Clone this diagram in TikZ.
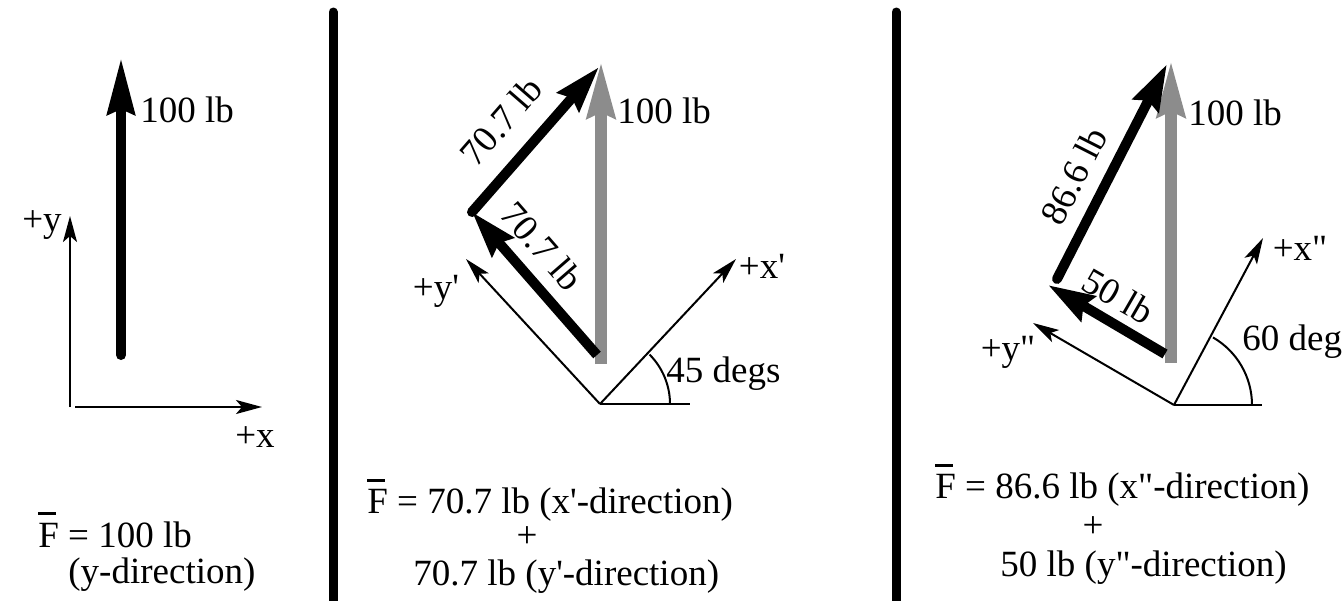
\documentclass[tikz,border=0pt]{standalone}
\usepackage{fontspec}
\setmainfont{Liberation Serif}
\usetikzlibrary{arrows.meta}
\definecolor{fgray}{gray}{0.55}
\newcommand\myFbar{\makebox[0pt][l]{\rule[0.86em]{0.47em}{0.08em}}F}
\tikzset{
  lbl/.style={inner sep=0pt, font=\fontsize{18.5}{22}\selectfont},
  force/.style={line width=5pt, -{Stealth[length=23pt,width=14pt,inset=2.5pt]}},
  bigforce/.style={line width=5pt, -{Stealth[length=28pt,width=13.5pt,inset=2.5pt]}},
  gforce/.style={line width=6pt, draw=fgray, -{Stealth[length=28pt,width=13.5pt,inset=2.5pt]}},
  axisarrow/.style={line width=1pt, -{Stealth[length=13pt,width=7pt,inset=3pt]}},
  divider/.style={line width=4.5pt, line cap=round},
  thinline/.style={line width=1pt}
}
\begin{document}
\begin{tikzpicture}[x=0.5pt,y=-0.5pt]
\useasboundingbox (0,0) rectangle (1344,600);
% ---------- panel 1 ----------
\coordinate (A1s) at (121,355);
\coordinate (A1t) at (121,58);
\draw[bigforce, line cap=round] (A1s) -- (A1t);
\node[lbl, anchor=west] (t1) at (140,110) {100 lb};
\coordinate (Y1s) at (70,407);
\coordinate (Y1t) at (70,216);
\coordinate (X1s) at (75,407);
\coordinate (X1t) at (262,407);
\draw[axisarrow] (Y1s) -- (Y1t);
\draw[axisarrow] (X1s) -- (X1t);
\node[lbl] (py1) at (42,225) {+y};
\node[lbl] (px1) at (255,437) {+x};
\node[lbl, anchor=west] (f1a) at (38,530) {\myFbar{} = 100 lb};
\node[lbl, anchor=west] (f1b) at (68,575) {(y-direction)};
% dividers
\coordinate (D1a) at (333,12);
\coordinate (D1b) at (333,620);
\coordinate (D2a) at (896,12);
\coordinate (D2b) at (896,620);
\draw[divider] (D1a) -- (D1b);
\draw[divider] (D2a) -- (D2b);
% ---------- panel 2 ----------
\coordinate (O2) at (600,404);
\coordinate (H2) at (690,404);
\coordinate (X2t) at (736,259);
\coordinate (Y2t) at (466,259);
\draw[thinline] (O2) -- (H2);
\draw[axisarrow] (O2) -- (X2t);
\draw[axisarrow] (O2) -- (Y2t);
\draw[thinline] (670,404) arc[start angle=0, end angle=45, radius=35pt];
\node[lbl, anchor=west] (d2) at (666,374) {45 degs};
\node[lbl] (py2) at (436,291) {+y\textquotesingle};
\node[lbl] (px2) at (762,266) {+x\textquotesingle};
\coordinate (G2s) at (601,364);
\coordinate (G2t) at (601,61);
\draw[gforce] (G2s) -- (G2t);
\node[lbl, anchor=west] (t2) at (617,111) {100 lb};
\coordinate (B2s) at (597,355);
\coordinate (B2m) at (472,212);
\coordinate (B2t) at (599,67);
\draw[force] (B2s) -- (B2m);
\draw[force, line cap=round] (B2m) -- (B2t);
\node[lbl, rotate=49] (l2a) at (501,121) {70.7 lb};
\node[lbl, rotate=-49] (l2b) at (542,246) {70.7 lb};
\node[lbl, anchor=west] (f2a) at (367,500) {\myFbar{} = 70.7 lb (x\textquotesingle-direction)};
\node[lbl] (f2p) at (527,537) {+};
\node[lbl, anchor=west] (f2b) at (413,577) {70.7 lb (y\textquotesingle-direction)};
% ---------- panel 3 ----------
\coordinate (O3) at (1174,405);
\coordinate (H3) at (1262,405);
\coordinate (X3t) at (1263,238);
\coordinate (Y3t) at (1033,323);
\draw[thinline] (O3) -- (H3);
\draw[axisarrow] (O3) -- (X3t);
\draw[axisarrow] (O3) -- (Y3t);
\draw[thinline] (1252,405) arc[start angle=0, end angle=60, radius=39pt];
\node[lbl, anchor=west] (d3) at (1242,342) {60 deg};
\node[lbl] (py3) at (1008,352) {+y\textquotedbl};
\node[lbl] (px3) at (1300,248) {+x\textquotedbl};
\coordinate (G3s) at (1171,363);
\coordinate (G3t) at (1171,60);
\draw[gforce] (G3s) -- (G3t);
\node[lbl, anchor=west] (t3) at (1188,113) {100 lb};
\coordinate (B3s) at (1165,354);
\coordinate (B3m) at (1048,285);
\coordinate (B3n) at (1057,279);
\coordinate (B3t) at (1167,64);
\draw[force] (B3s) -- (B3m);
\draw[force, line cap=round] (B3n) -- (B3t);
\node[lbl, rotate=63] (l3a) at (1074,176) {86.6 lb};
\node[lbl, rotate=-30] (l3b) at (1118,296) {50 lb};
\node[lbl, anchor=west] (f3a) at (935,485) {\myFbar{} = 86.6 lb (x\textquotedbl-direction)};
\node[lbl] (f3p) at (1093,527) {+};
\node[lbl, anchor=west] (f3b) at (1000,568) {50 lb (y\textquotedbl-direction)};
\end{tikzpicture}
\end{document}
